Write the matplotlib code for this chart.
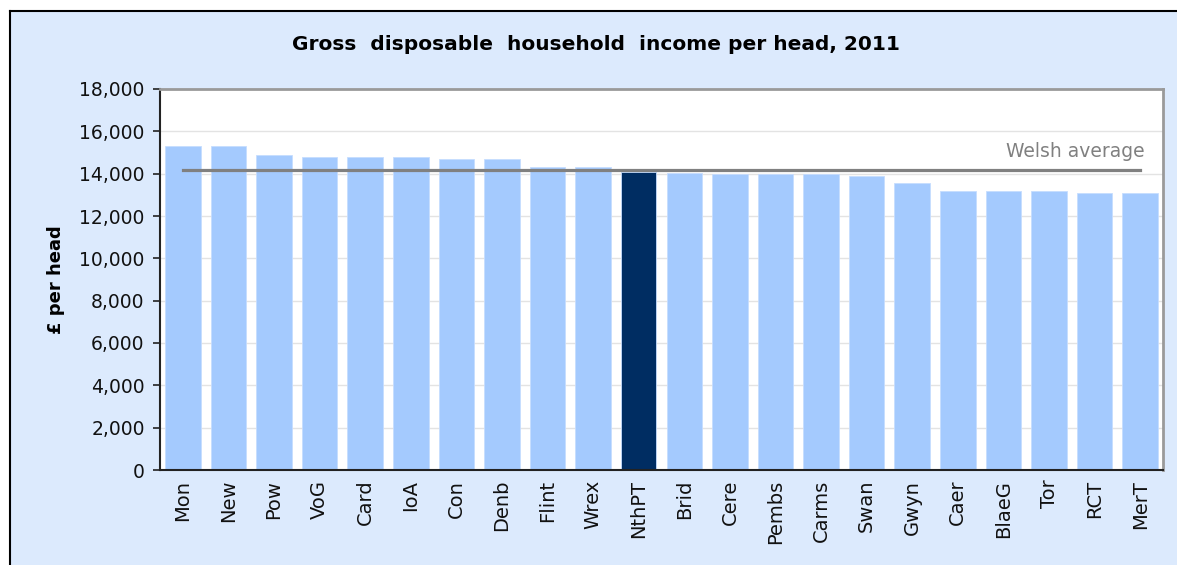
import matplotlib.pyplot as plt
from matplotlib.patches import Rectangle
from matplotlib.lines import Line2D
from matplotlib.ticker import FuncFormatter

areas = ["Mon", "New", "Pow", "VoG", "Card", "IoA", "Con", "Denb", "Flint", "Wrex", "NthPT",
         "Brid", "Cere", "Pembs", "Carms", "Swan", "Gwyn", "Caer", "BlaeG", "Tor", "RCT", "MerT"]
income = [15300, 15300, 14880, 14780, 14780, 14780, 14690, 14690, 14310, 14310, 14080,
          14050, 13980, 13980, 13980, 13890, 13560, 13180, 13180, 13180, 13080, 13080]
welsh_avg = 14170
highlight = "NthPT"

fig = plt.figure(figsize=(11.77, 5.65), dpi=100)
fig.patch.set_facecolor("#DCEAFD")
fig.patch.set_edgecolor("none")
fig.patch.set_linewidth(0)
# white strips on top and left, then black frame (the rest is cropped off)
left, top = 10 / 1177, (565 - 11) / 565
fig.patches.append(Rectangle((0, top), 1, 1 - top, transform=fig.transFigure,
                             facecolor="white", edgecolor="none", zorder=-10))
fig.patches.append(Rectangle((0, 0), left, 1, transform=fig.transFigure,
                             facecolor="white", edgecolor="none", zorder=-10))
fig.lines.append(Line2D([left, left], [0, top], transform=fig.transFigure,
                        color="black", linewidth=1.5, zorder=-9))
fig.lines.append(Line2D([left, 1], [top, top], transform=fig.transFigure,
                        color="black", linewidth=1.5, zorder=-9))

ax = fig.add_axes([160 / 1177, (565 - 470) / 565, 1003 / 1177, 381 / 565])
ax.set_zorder(5)
ax.set_facecolor("white")

colors = ["#002D62" if a == highlight else "#A4CAFE" for a in areas]
x = range(len(areas))
ax.bar(x, income, width=0.78, color=colors, edgecolor="#C6DDFF", linewidth=0.6, zorder=2)
ax.plot([0, len(areas) - 1], [welsh_avg, welsh_avg], color="#808080", linewidth=2.3, zorder=3)
ax.text(len(areas) - 0.9, welsh_avg + 450, "Welsh average", color="#808080", fontsize=13.5,
        ha="right", va="bottom")

ax.set_xlim(-0.5, len(areas) - 0.5)
ax.set_ylim(0, 18000)
ax.set_yticks(range(0, 18001, 2000))
ax.yaxis.set_major_formatter(FuncFormatter(lambda v, p: f"{int(v):,}"))
ax.grid(axis="y", color="#E3E3E3", linewidth=1, zorder=0)
ax.set_axisbelow(True)
ax.set_xticks(list(x))
ax.set_xticklabels(areas, rotation=90, fontsize=14, color="#111111")
ax.tick_params(axis="x", length=0, pad=7)
ax.tick_params(axis="y", labelsize=13.5, length=5, width=1.2, color="#222222", pad=6, labelcolor="#111111")

for s in ["top", "right"]:
    ax.spines[s].set_color("#9A9A9A")
    ax.spines[s].set_linewidth(2)
for s in ["left", "bottom"]:
    ax.spines[s].set_color("#222222")
    ax.spines[s].set_linewidth(1.5)

ax.set_ylabel("£ per head", fontsize=13, fontweight="bold", labelpad=10)
fig.text(596 / 1177, 1 - 45 / 565, "Gross  disposable  household  income per head, 2011",
         ha="center", va="center", fontsize=14.5, fontweight="bold")

fig.savefig("out.png", dpi=100, facecolor=fig.get_facecolor())
